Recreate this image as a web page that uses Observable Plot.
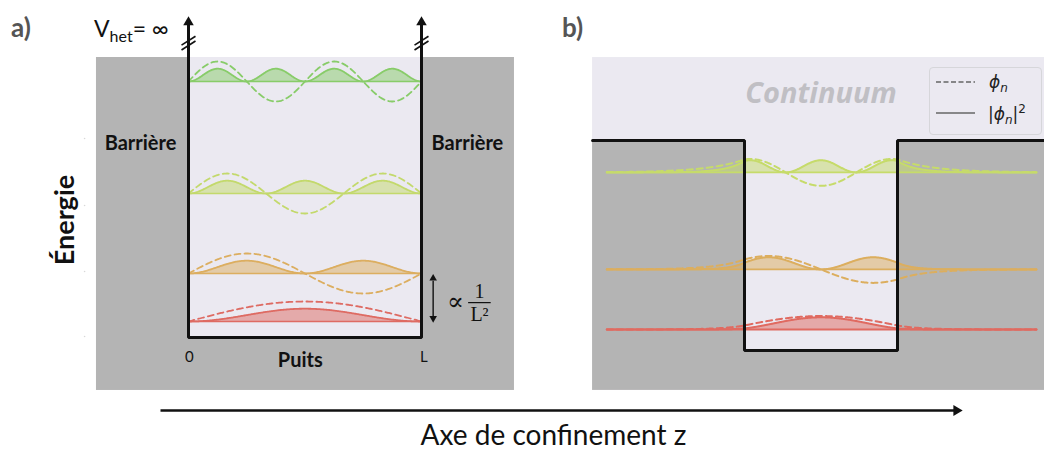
<!DOCTYPE html>
<html><head><meta charset="utf-8">
<script src="https://cdn.jsdelivr.net/npm/d3@7"></script>
<script src="https://cdn.jsdelivr.net/npm/@observablehq/plot@0.6"></script>
<style>
body{margin:0;background:#fff;font-family:Lato,"Noto Sans",sans-serif;}
#fig{position:relative;width:1044px;height:453px;overflow:hidden;background:#fff;}
#fig > svg{position:absolute;left:0;top:0;max-width:none;}
.lbl{position:absolute;white-space:nowrap;line-height:1;}
</style></head><body><div id="fig"></div>
<script>
// ---------- data ----------
// panel a : infinite well, E_n ∝ n²
const nA = [1, 2, 3, 4];
const eA = [1, 4, 9, 16];
const colA = ["#de6b63", "#dcae60", "#c3d96c", "#88cc69"];
const ampPsiA = 1.25, ampSqA = 0.8;
const barrierA = {z1: -0.395, z2: 1.399, e1: -3.31, e2: 17.5};

// panel b : finite well (V0 = 1)
const nB = [1, 2, 3];
const eB = [0.10, 0.386, 0.848];
const kB = [2.54, 4.6, 6.8];       // wave number inside
const kappaB = [6.5, 5.5, 4.2];    // decay constant in barrier
const signB = [1, -1, -1];
const colB = ["#e06a60", "#dcae5e", "#c6db6a"];
const ampPsiB = 0.064, ampSqB = 0.058;
const panelB = {z1: -0.993, z2: 1.962, e1: -0.19, e2: 1.395};
const lineB = [-0.9, 1.908];

// texts
const textsA = [
  {z: -0.206, e: 12.1, t: "Barrière"},
  {z: 1.197, e: 12.1, t: "Barrière"},
  {z: 0.48, e: -1.45, t: "Puits"}
];
const ticksA = [{z: 0.004, e: -1.25, t: "0"}, {z: 1.01, e: -1.25, t: "L"}];
const faintTicks = [12.44, 8.25, 4.125, 0.06];

const W = 1044, H = 453;
const grey = "#b4b4b4", lav = "#ebe9f1", ink = "#111";

// ---------- panel a ----------
const zA = d3.range(0, 1.0001, 0.004);
const marksA = [
  Plot.rect([barrierA], {x1: "z1", x2: "z2", y1: "e1", y2: "e2", fill: grey}),
  Plot.rect([{z1: 0, z2: 1, e1: 0, e2: barrierA.e2}], {x1: "z1", x2: "z2", y1: "e1", y2: "e2", fill: lav}),
  Plot.dot(faintTicks.map(e => ({z: -0.446, e})), {x: "z", y: "e", r: 0.8, fill: "#d8d8d8"})
];
nA.forEach((n, i) => {
  const E = eA[i], c = colA[i];
  const d = zA.map(z => {
    const s = Math.sin(n * Math.PI * z);
    return {z, base: E, psi: E + ampPsiA * s, sq: E + ampSqA * s * s};
  });
  marksA.push(
    Plot.areaY(d, {x: "z", y1: "base", y2: "sq", fill: c, fillOpacity: 0.5}),
    Plot.line([{z: 0, e: E}, {z: 1, e: E}], {x: "z", y: "e", stroke: c, strokeWidth: 1.5}),
    Plot.line(d, {x: "z", y: "sq", stroke: c, strokeWidth: 1.8}),
    Plot.line(d, {x: "z", y: "psi", stroke: c, strokeWidth: 1.8, strokeDasharray: "6,4"})
  );
});
const headA = 19.7;
marksA.push(
  Plot.line([{z: 0, e: headA}, {z: 0, e: 0}, {z: 1, e: 0}, {z: 1, e: headA}],
    {x: "z", y: "e", stroke: ink, strokeWidth: 3, strokeLinejoin: "miter"}),
  Plot.dot([{z: 0, e: headA}, {z: 1, e: headA}], {x: "z", y: "e", symbol: "triangle", r: 3.9, fill: ink}),
  // break marks
  Plot.link([0, 1].flatMap(z => [18.55, 18.25].map(e => ({z, e}))),
    {x1: d => d.z - 0.03, x2: d => d.z + 0.03, y1: d => d.e - 0.28, y2: d => d.e + 0.28, stroke: ink, strokeWidth: 1.6}),
  // level spacing arrow
  Plot.link([{z: 1.05, a: eA[0] + 0.35, b: eA[1] - 0.45}], {x1: "z", x2: "z", y1: "a", y2: "b", stroke: ink, strokeWidth: 1.4}),
  Plot.dot([{z: 1.05, e: eA[1] - 0.3, r: 0}, {z: 1.05, e: eA[0] + 0.2, r: 180}],
    {x: "z", y: "e", rotate: "r", symbol: "triangle", r: 2.8, fill: ink}),
  Plot.text(["∝"], {x: 1.146, y: 2.2, text: d => d, fontSize: 25, fontFamily: "DejaVu Serif, serif", fill: ink}),
  Plot.text(["1"], {x: 1.249, y: 2.85, text: d => d, fontSize: 20, fontFamily: "Liberation Serif, serif", fill: ink}),
  Plot.link([{a: 1.2, b: 1.297, e: 2.18}], {x1: "a", x2: "b", y1: "e", y2: "e", stroke: ink, strokeWidth: 1.2}),
  Plot.text(["L²"], {x: 1.249, y: 1.42, text: d => d, fontSize: 20, fontFamily: "Liberation Serif, serif", fill: ink}),
  Plot.text(textsA, {x: "z", y: "e", text: "t", fontSize: 20, fontWeight: "bold", fontFamily: "Lato", fill: ink}),
  Plot.text(ticksA, {x: "z", y: "e", text: "t", fontSize: 15, fontFamily: "Lato", fill: ink})
);
const plotA = Plot.plot({
  width: W, height: H, margin: 0,
  x: {domain: [0, 1], range: [188, 421], axis: null},
  y: {domain: [0, 20], range: [337, 17], axis: null},
  style: {background: "transparent", overflow: "visible"},
  marks: marksA
});

// ---------- panel b ----------
function phiB(z, k, kap, odd) {
  const u = z - 0.5, a = 0.5, au = Math.abs(u);
  if (!odd) return au <= a ? Math.cos(k * u) : Math.cos(k * a) * Math.exp(-kap * (au - a));
  return au <= a ? Math.sin(k * u) : Math.sign(u) * Math.sin(k * a) * Math.exp(-kap * (au - a));
}
const zB = d3.range(lineB[0], lineB[1] + 1e-6, 0.003);
const marksB = [
  Plot.rect([panelB], {x1: "z1", x2: "z2", y1: "e1", y2: "e2", fill: lav}),
  Plot.rect([{z1: panelB.z1, z2: 0, e1: panelB.e1, e2: 1}, {z1: 1, z2: panelB.z2, e1: panelB.e1, e2: 1}, {z1: 0, z2: 1, e1: panelB.e1, e2: 0}],
    {x1: "z1", x2: "z2", y1: "e1", y2: "e2", fill: grey}),
  Plot.text(["Continuum"], {x: 0.5, y: 1.225, text: d => d, fontSize: 29, fontWeight: "bold", fontStyle: "italic", fontFamily: "Open Sans", fill: "#c0bfc4"})
];
nB.forEach((n, i) => {
  const E = eB[i], c = colB[i], odd = n % 2 === 0;
  const raw = zB.map(z => signB[i] * phiB(z, kB[i], kappaB[i], odd));
  const m = d3.max(raw, Math.abs);
  const d = zB.map((z, j) => {
    const p = raw[j] / m;
    return {z, base: E, psi: E + ampPsiB * p, sq: E + ampSqB * p * p};
  });
  marksB.push(
    Plot.areaY(d, {x: "z", y1: "base", y2: "sq", fill: c, fillOpacity: 0.5}),
    Plot.line([{z: lineB[0], e: E}, {z: lineB[1], e: E}], {x: "z", y: "e", stroke: c, strokeWidth: 1.8}),
    Plot.line(d, {x: "z", y: "sq", stroke: c, strokeWidth: 2}),
    Plot.line(d, {x: "z", y: "psi", stroke: c, strokeWidth: 2, strokeDasharray: "6,4"})
  );
});
marksB.push(
  Plot.line([{z: panelB.z1, e: 1}, {z: 0, e: 1}, {z: 0, e: 0}, {z: 1, e: 0}, {z: 1, e: 1}, {z: panelB.z2, e: 1}],
    {x: "z", y: "e", stroke: ink, strokeWidth: 3, strokeLinejoin: "miter"})
);
const plotB = Plot.plot({
  width: W, height: H, margin: 0,
  x: {domain: [0, 1], range: [744, 897], axis: null},
  y: {domain: [0, 1], range: [350, 140], axis: null},
  style: {background: "transparent", overflow: "visible"},
  marks: marksB
});

// ---------- common z axis ----------
const axisZ = [0, 1];
const plotC = Plot.plot({
  width: W, height: H, margin: 0,
  x: {domain: axisZ, range: [160, 962], axis: null},
  y: {domain: [0, 1], range: [410, 440], axis: null},
  style: {background: "transparent", overflow: "visible"},
  marks: [
    Plot.link([{a: 0, b: 0.993, e: 0}], {x1: "a", x2: "b", y1: "e", y2: "e", stroke: ink, strokeWidth: 2.5}),
    Plot.dot([{z: 0.9925, e: 0}], {x: "z", y: "e", symbol: "triangle", rotate: 90, r: 4, fill: ink}),
    Plot.text(["Axe de confinement z"], {x: 0.49, y: 0.85, text: d => d, fontSize: 28, fontFamily: "Lato", fill: ink})
  ]
});

const fig = document.getElementById("fig");
fig.append(plotA, plotB, plotC);

function label(html, css) {
  const d = document.createElement("div");
  d.className = "lbl";
  d.innerHTML = html;
  d.style.cssText += css;
  fig.append(d);
}
label("a)", "left:11px;top:14px;font-size:26px;font-weight:bold;color:#555;");
label("b)", "left:562px;top:14px;font-size:26px;font-weight:bold;color:#555;");
label("V<sub style='font-size:16px;vertical-align:-5px'>het</sub>= ∞", "left:94px;top:17px;font-size:23px;color:#111;");
label("Énergie", "left:63px;top:220px;font-size:27px;font-weight:bold;color:#111;transform:translate(-50%,-50%) rotate(-90deg);");
label(`<div style="position:absolute;left:929px;top:67px;width:111px;height:66px;border:1px solid #d6d6da;border-radius:4px;background:#ebe9f1"></div>
<svg width="1044" height="453" style="position:absolute;left:0;top:0"><line x1="936" x2="975" y1="82" y2="82" stroke="#666" stroke-width="1.5" stroke-dasharray="5,2.5"/><line x1="936" x2="975" y1="113" y2="113" stroke="#666" stroke-width="1.5"/></svg>
<div style="position:absolute;left:989px;top:72px;font:italic 17px 'DejaVu Sans';color:#222">ϕ<sub style="font-size:12px">n</sub></div>
<div style="position:absolute;left:988px;top:102px;font:17px 'DejaVu Sans';color:#222">|<i>ϕ</i><sub style="font-size:12px"><i>n</i></sub>|<sup style="font-size:12px">2</sup></div>`, "left:0;top:0;");
</script></body></html>
